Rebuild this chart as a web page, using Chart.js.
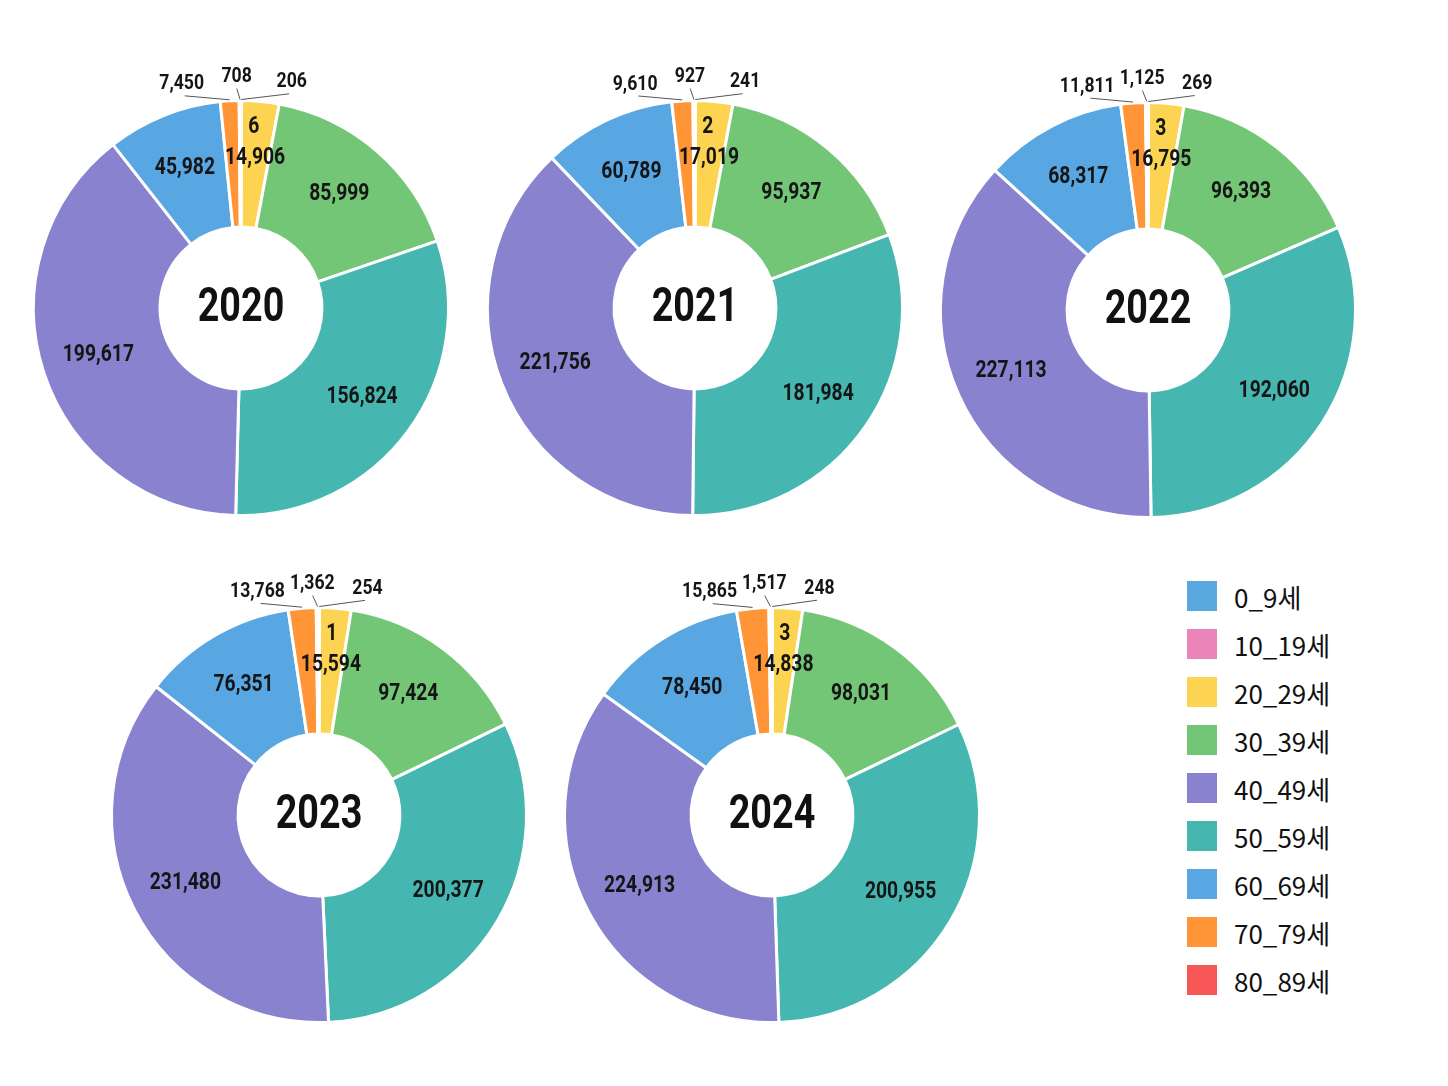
<!DOCTYPE html>
<html>
<head>
<meta charset="utf-8">
<script src="https://cdn.jsdelivr.net/npm/chart.js@4.4.1/dist/chart.umd.min.js"></script>
<style>
body{margin:0;background:#fff;width:1448px;height:1086px;position:relative;overflow:hidden;font-family:"Noto Sans CJK KR","Noto Sans",sans-serif}
canvas.pie{position:absolute}
#legend{position:absolute;left:1187px;top:572px}
.item{display:flex;align-items:center;height:48px}
.sw{width:30px;height:30px;margin-right:17px}
.item span{font-size:26px;color:#111}
</style>
</head>
<body>
<div id="legend"></div>
<script>
// DATA
const ageGroups = ["0_9세", "10_19세", "20_29세", "30_39세", "40_49세", "50_59세", "60_69세", "70_79세", "80_89세"];
const years = ["2020", "2021", "2022", "2023", "2024"];
const v2020 = [6, 206, 14906, 85999, 199617, 156824, 45982, 7450, 708];
const v2021 = [2, 241, 17019, 95937, 221756, 181984, 60789, 9610, 927];
const v2022 = [3, 269, 16795, 96393, 227113, 192060, 68317, 11811, 1125];
const v2023 = [1, 254, 15594, 97424, 231480, 200377, 76351, 13768, 1362];
const v2024 = [3, 248, 14838, 98031, 224913, 200955, 78450, 15865, 1517];
const yearValues = [v2020, v2021, v2022, v2023, v2024];

//STYLE
const colors = ["#5aa8e0", "#ea84b8", "#fdd452", "#74c677", "#8882cf", "#46b6b0", "#58a7e2", "#ff9537", "#f75757"];
const labelSide = ["in", "out", "in", "in", "in", "in", "in", "out", "out"];
// clockwise order of the slices as drawn in the picture (50_59 comes before 40_49)
const drawOrder = [0, 1, 2, 3, 5, 4, 6, 7, 8];
const centers = [[241, 308], [695, 308], [1148, 310], [319, 815], [772, 815]];
const SIZE = 500;

const drawText = (ctx, txt, x, y, sx) => {
    ctx.save();
    ctx.translate(x, y);
    ctx.scale(sx, 1);
    ctx.fillText(txt, 0, 0);
    ctx.restore();
};

const sliceLabels = {
    id: "sliceLabels",
    afterDatasetsDraw(chart, args, opts) {
        const ctx = chart.ctx;
        const meta = chart.getDatasetMeta(0);
        const vals = chart.data.datasets[0].data;
        const outs = [];
        ctx.save();
        ctx.font = 'bold 23px Roboto, "Liberation Sans", sans-serif';
        ctx.fillStyle = "#151515";
        ctx.textAlign = "center";
        ctx.textBaseline = "middle";
        let cx = 0, cy = 0;
        meta.data.forEach((arc, j) => {
            const i = drawOrder[j];
            const p = arc.getProps(["x", "y", "startAngle", "endAngle", "innerRadius", "outerRadius"], true);
            cx = p.x; cy = p.y;
            const mid = (p.startAngle + p.endAngle) / 2;
            const txt = vals[j].toLocaleString("en-US");
            if (labelSide[i] === "out") {
                let t = mid + Math.PI / 2;
                if (t > Math.PI) t -= 2 * Math.PI;
                outs.push({ t, txt, r: p.outerRadius });
                return;
            }
            let a = mid, r = (p.innerRadius + p.outerRadius) / 2 + 6;
            if (p.endAngle - p.startAngle < 0.05) { a = mid + 0.07; r = p.outerRadius - 26; }
            drawText(ctx, txt, p.x + Math.cos(a) * r, p.y + Math.sin(a) * r, 0.84);
        });

        // spread the small outside labels so they do not overlap
        outs.sort((a, b) => a.t - b.t);
        const gap = 0.24;
        const pos = outs.map(o => o.t);
        let moved = false;
        for (let k = 1; k < pos.length; k++) {
            if (pos[k] - pos[k - 1] < gap) { pos[k] = pos[k - 1] + gap; moved = true; }
        }
        if (moved) {
            const m0 = outs.reduce((s, o) => s + o.t, 0) / outs.length;
            const m1 = pos.reduce((s, v) => s + v, 0) / pos.length;
            for (let k = 0; k < pos.length; k++) pos[k] += m0 - m1;
        }
        ctx.strokeStyle = "#555";
        ctx.lineWidth = 1;
        ctx.font = 'bold 21px Roboto, "Liberation Sans", sans-serif';
        outs.forEach((o, k) => {
            const a0 = o.t - Math.PI / 2, a1 = pos[k] - Math.PI / 2;
            ctx.beginPath();
            ctx.moveTo(cx + Math.cos(a0) * (o.r + 1), cy + Math.sin(a0) * (o.r + 1));
            ctx.lineTo(cx + Math.cos(a1) * (o.r + 12), cy + Math.sin(a1) * (o.r + 12));
            ctx.stroke();
            drawText(ctx, o.txt, cx + Math.cos(a1) * (o.r + 24), cy + Math.sin(a1) * (o.r + 24), 0.84);
        });

        // year in the hole
        ctx.font = 'bold 49px Roboto, "Liberation Sans", sans-serif';
        ctx.fillStyle = "#111";
        drawText(ctx, opts.year, cx, cy + 1, 0.77);
        ctx.restore();
    }
};

years.forEach((yr, n) => {
    const cv = document.createElement("canvas");
    cv.className = "pie";
    cv.width = SIZE; cv.height = SIZE;
    cv.style.left = (centers[n][0] - SIZE / 2) + "px";
    cv.style.top = (centers[n][1] - SIZE / 2) + "px";
    document.body.appendChild(cv);
    new Chart(cv, {
        type: "doughnut",
        data: {
            labels: drawOrder.map(i => ageGroups[i]),
            datasets: [{
                data: drawOrder.map(i => yearValues[n][i]),
                backgroundColor: drawOrder.map(i => colors[i]),
                borderColor: "#ffffff",
                borderWidth: 3
            }]
        },
        options: {
            responsive: false,
            animation: false,
            cutout: "39%",
            layout: { padding: 41 },
            plugins: {
                legend: { display: false },
                tooltip: { enabled: false },
                sliceLabels: { year: yr }
            }
        },
        plugins: [sliceLabels]
    });
});

// legend
const legend = document.querySelector("#legend");
ageGroups.forEach((g, i) => {
    const row = document.createElement("div");
    row.className = "item";
    row.innerHTML = '<div class="sw" style="background:' + colors[i] + '"></div><span>' + g + "</span>";
    legend.appendChild(row);
});
</script>
</body>
</html>
